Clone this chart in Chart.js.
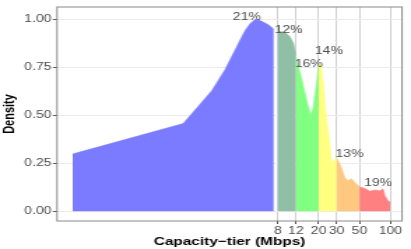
<!DOCTYPE html>
<html>
<head>
<meta charset="utf-8">
<script src="https://cdn.jsdelivr.net/npm/chart.js@4/dist/chart.umd.min.js"></script>
<style>
  html, body { margin: 0; padding: 0; background: #fff; }
</style>
</head>
<body>
<!-- drawn narrow, shown wide: the reference is stretched sideways -->
<canvas id="densityChart" width="294" height="249" style="width:411px;height:249px;display:block"></canvas>
<script>
// capacity tiers (Mbps) and density
const blueX = [0.08, 0.96, 1.82, 2.45, 3.57, 3.88, 4.3, 4.81, 5.37, 6.47, 7.31];
const blueY = [0.298, 0.457, 0.628, 0.738, 0.909, 0.945, 0.977, 0.999, 0.994, 0.972, 0.948];

const tealX = [8, 8.6, 9.42, 10.5, 11.35, 12];
const tealY = [0.935, 0.936, 0.931, 0.909, 0.875, 0.815];

const greenX = [12, 13.7, 15.3, 16.8, 17.8, 19.2, 20];
const greenY = [0.805, 0.687, 0.576, 0.496, 0.542, 0.679, 0.755];

const yellowX = [20, 21.0, 22.3, 23.9, 25.0, 26.2, 26.9, 28.0, 30];
const yellowY = [0.755, 0.772, 0.66, 0.47, 0.40, 0.30, 0.252, 0.262, 0.278];

const orangeX = [30, 33.3, 36.0, 38.8, 41.7, 45.0, 50];
const orangeY = [0.278, 0.227, 0.175, 0.159, 0.170, 0.150, 0.128];

const redX = [50, 56.4, 63.1, 70.5, 78.9, 85.0, 88.3, 95.1, 100];
const redY = [0.128, 0.119, 0.104, 0.111, 0.107, 0.116, 0.082, 0.053, 0.048];

const xTicks = [8, 12, 20, 30, 50, 100];
const yTicks = [0, 0.25, 0.5, 0.75, 1];

const pctText = ['21%', '12%', '14%', '16%', '13%', '19%'];
const pctX = [4.0, 10.2, 25.2, 16.1, 40.0, 76.0];
const pctY = [1.011, 0.943, 0.832, 0.767, 0.295, 0.145];

const segments = [
  [blueX, blueY, '#7b7bff'],
  [tealX, tealY, '#8fbfa5'],
  [greenX, greenY, '#80ff80'],
  [yellowX, yellowY, '#ffff80'],
  [orangeX, orangeY, '#ffc880'],
  [redX, redY, '#ff8080'],
];

const datasets = segments.map(([xs, ys, col]) => ({
  data: xs.map((x, i) => ({ x: x, y: ys[i] })),
  backgroundColor: col,
  borderColor: col,
  borderWidth: 0.6,
  fill: 'origin',
  pointRadius: 0,
  tension: 0
}));

const pctLabels = {
  id: 'pctLabels',
  afterDatasetsDraw(chart) {
    const ctx = chart.ctx;
    ctx.save();
    ctx.font = '10px "Liberation Sans", Arial, sans-serif';
    ctx.fillStyle = '#4d4d4d';
    ctx.textAlign = 'center';
    ctx.textBaseline = 'middle';
    pctText.forEach((t, i) => {
      ctx.fillText(t, chart.scales.x.getPixelForValue(pctX[i]), chart.scales.y.getPixelForValue(pctY[i]));
    });
    ctx.restore();
  }
};

const panelBorder = {
  id: 'panelBorder',
  afterDraw(chart) {
    const a = chart.chartArea;
    const ctx = chart.ctx;
    ctx.save();
    ctx.strokeStyle = '#8a8a8a';
    ctx.lineWidth = 1;
    ctx.strokeRect(a.left, a.top, a.right - a.left, a.bottom - a.top);
    ctx.restore();
  }
};

const tickFont = { family: '"Liberation Sans", Arial, sans-serif', size: 10 };
const titleFont = { family: '"Liberation Sans", Arial, sans-serif', size: 11, weight: 'bold' };

new Chart(document.getElementById('densityChart'), {
  type: 'line',
  data: { datasets: datasets },
  options: {
    responsive: false,
    devicePixelRatio: 1,
    animation: false,
    layout: { padding: { top: 3, right: 6.4, left: 0, bottom: 0 } },
    plugins: { legend: { display: false }, tooltip: { enabled: false } },
    scales: {
      x: {
        type: 'logarithmic',
        min: 0.0565,
        max: 130,
        z: 1,
        afterBuildTicks: s => { s.ticks = xTicks.map(v => ({ value: v })); },
        afterFit: s => { s.height = 28; },
        ticks: {
          autoSkip: false, maxRotation: 0, minRotation: 0,
          font: tickFont, color: '#4d4d4d', padding: 1,
          callback: v => String(v)
        },
        grid: { color: 'rgba(170,170,170,0.55)', tickColor: '#555', tickLength: 3 },
        border: { display: false },
        title: { display: true, text: 'Capacity−tier (Mbps)', font: titleFont, color: '#000', padding: 0 }
      },
      y: {
        min: -0.0507,
        max: 1.0643,
        afterBuildTicks: s => { s.ticks = yTicks.map(v => ({ value: v })); },
        afterFit: s => { s.width = 40.8; },
        ticks: { font: tickFont, color: '#4d4d4d', padding: 1, callback: v => v.toFixed(2) },
        grid: { color: '#ebebeb', tickColor: '#555', tickLength: 3 },
        border: { display: false },
        title: { display: true, text: 'Density', font: titleFont, color: '#000', padding: 0 }
      }
    }
  },
  plugins: [pctLabels, panelBorder]
});
</script>
</body>
</html>
